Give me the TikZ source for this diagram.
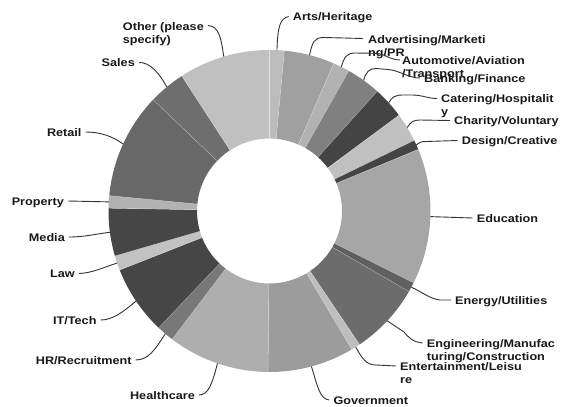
\documentclass[tikz,border=0pt]{standalone}
\usepackage{fontspec}
\newfontfamily\lblfont{Liberation Sans Bold}[FakeStretch=1.15]
\begin{document}
\begin{tikzpicture}[x=1pt,y=-1pt,
  lbl/.style={font=\lblfont\fontsize{11}{13}\selectfont, text=black!90, inner sep=0pt, align=left},
  leader/.style={draw=black!80, line width=0.9pt},
  sep/.style={draw=white, line width=0.4pt, draw opacity=0.4}]
\useasboundingbox[fill=white] (0,0) rectangle (571,407);
\coordinate (O) at (269.5,211);
% ring segments
\begin{scope}[shift={(O)}]
\foreach \a/\b/\g in {0/5.3/188, 5.3/23.5/160, 23.5/29.5/178, 29.5/42/128, 42/53.5/68,
  53.5/64/192, 64/67.5/68, 67.5/116.5/166, 116.5/120/96, 120/146/108, 146/149.3/190,
  149.3/180.5/156, 180.5/217.2/174, 217.2/223.5/120, 223.5/248.5/70, 248.5/253.8/194,
  253.8/271/70, 271/275.5/178, 275.5/313.7/104, 313.7/327/110, 327/360/192}{
  \fill[fill={rgb,255:red,\g;green,\g;blue,\g}] ({90-\a}:161pt)
    arc[start angle={90-\a}, end angle={90-\b}, radius=161pt]
    -- ({90-\b}:72.5pt)
    arc[start angle={90-\b}, end angle={90-\a}, radius=72.5pt] -- cycle;
}
\foreach \a in {0,5.3,23.5,29.5,42,53.5,64,67.5,116.5,120,146,149.3,180.5,217.2,223.5,248.5,253.8,271,275.5,313.7,327}{
  \draw[sep] ({90-\a}:72.5pt) -- ({90-\a}:161pt);
}
\end{scope}
% leader start points on the ring
\foreach \n/\m in {Arts/2.65, Adv/14.4, Auto/26.5, Bank/35.75, Cat/47.75, Char/58.75, Des/65.75,
  Edu/92, Ene/118.25, Eng/133, Ent/147.65, Gov/164.9, Hea/198.85, HR/220.35, IT/236,
  Law/251.15, Med/262.4, Pro/273.25, Ret/294.6, Sal/320.35, Oth/343.5}{
  \coordinate (p\n) at ([shift={({90-\m}:161pt)}]O);
}
% labels (two-line labels are anchored at the baseline of their last line)
\node[lbl, anchor=base west] (lArts) at (292.7,20.5) {Arts/Heritage};
\node[lbl, anchor=base west] (lAdv) at (368,56) {Advertising/Marketi\\ng/PR};
\node[lbl, anchor=base west] (lAuto) at (402,77) {Automotive/Aviation\\/Transport};
\node[lbl, anchor=base west] (lBank) at (424,82) {Banking/Finance};
\node[lbl, anchor=base west] (lCat) at (441,115.5) {Catering/Hospitalit\\y};
\node[lbl, anchor=base west] (lChar) at (454,124.5) {Charity/Voluntary};
\node[lbl, anchor=base west] (lDes) at (461.7,144.5) {Design/Creative};
\node[lbl, anchor=base west] (lEdu) at (476.7,222) {Education};
\node[lbl, anchor=base west] (lEne) at (455,304) {Energy/Utilities};
\node[lbl, anchor=base west] (lEng) at (426.7,360) {Engineering/Manufac\\turing/Construction};
\node[lbl, anchor=base west] (lEnt) at (400,383) {Entertainment/Leisu\\re};
\node[lbl, anchor=base west] (lGov) at (333.3,404) {Government};
\node[lbl, anchor=base east] (lHea) at (195,399) {Healthcare};
\node[lbl, anchor=base east] (lHR) at (131.7,364) {HR/Recruitment};
\node[lbl, anchor=base east] (lIT) at (96.7,324) {IT/Tech};
\node[lbl, anchor=base east] (lLaw) at (75,277.5) {Law};
\node[lbl, anchor=base east] (lMed) at (65,241) {Media};
\node[lbl, anchor=base east] (lPro) at (64,205) {Property};
\node[lbl, anchor=base east] (lRet) at (81.7,136) {Retail};
\node[lbl, anchor=base east] (lSal) at (135,66.5) {Sales};
\node[lbl, anchor=base east] (lOth) at (204,43) {Other (please\\specify)};
% leaders
\draw[leader] (pArts) .. controls (277.8,26) and (280,18.5) .. ([shift={(-4pt,4pt)}]lArts.base west);
\draw[leader] (pAdv) .. controls (312.5,42) and (314,37.5) .. (324,37.5) -- ([shift={(-5pt,17.5pt)}]lAdv.base west);
\draw[leader] (pAuto) .. controls (344,57) and (347,53) .. (355,53) -- (375,53.3) .. controls (385,53.5) and (390,60) .. ([shift={(-2pt,17pt)}]lAuto.base west);
\draw[leader] (pBank) .. controls (366,72) and (369,68.5) .. (376,68.5) -- (388,69.5) .. controls (400,70.5) and (408,78) .. ([shift={(-4pt,4pt)}]lBank.base west);
\draw[leader] (pCat) .. controls (392,97) and (395,95) .. (403,95) -- (412,95) .. controls (422,95) and (428,98.5) .. ([shift={(-4pt,17pt)}]lCat.base west);
\draw[leader] (pChar) .. controls (411,122) and (413,120) .. (420,120) -- ([shift={(-4pt,4pt)}]lChar.base west);
\draw[leader] (pDes) .. controls (419,142.5) and (421,141.5) .. (426,141.5) -- ([shift={(-4pt,4pt)}]lDes.base west);
\draw[leader] (pEdu) -- ([shift={(-4pt,4pt)}]lEdu.base west);
\draw[leader] (pEne) .. controls (422,292) and (430,299) .. (440,300) -- ([shift={(-4pt,4pt)}]lEne.base west);
\draw[leader] (pEng) -- (404,332) .. controls (409,338) and (413,342) .. ([shift={(-4pt,17pt)}]lEng.base west);
\draw[leader] (pEnt) .. controls (362,358) and (366,365) .. (376,365) -- ([shift={(-4pt,17pt)}]lEnt.base west);
\draw[leader] (pGov) .. controls (318,388) and (320,399) .. ([shift={(-4pt,4pt)}]lGov.base west);
\draw[leader] (pHea) .. controls (212,385) and (208,395) .. ([shift={(4pt,4pt)}]lHea.base east);
\draw[leader] (pHR) .. controls (155,350) and (148,360) .. ([shift={(4pt,4pt)}]lHR.base east);
\draw[leader] (pIT) .. controls (122,313) and (112,320) .. ([shift={(4pt,4pt)}]lIT.base east);
\draw[leader] (pLaw) .. controls (102,268) and (92,273) .. ([shift={(4pt,4pt)}]lLaw.base east);
\draw[leader] (pMed) .. controls (95,234) and (85,237) .. ([shift={(4pt,4pt)}]lMed.base east);
\draw[leader] (pPro) -- ([shift={(4pt,4pt)}]lPro.base east);
\draw[leader] (pRet) .. controls (112,136) and (100,132) .. ([shift={(4pt,4pt)}]lRet.base east);
\draw[leader] (pSal) .. controls (160,74) and (150,62) .. ([shift={(4pt,4pt)}]lSal.base east);
\draw[leader] (pOth) .. controls (221,38) and (219,26) .. ([shift={(4pt,17.5pt)}]lOth.base east);
\end{tikzpicture}
\end{document}
